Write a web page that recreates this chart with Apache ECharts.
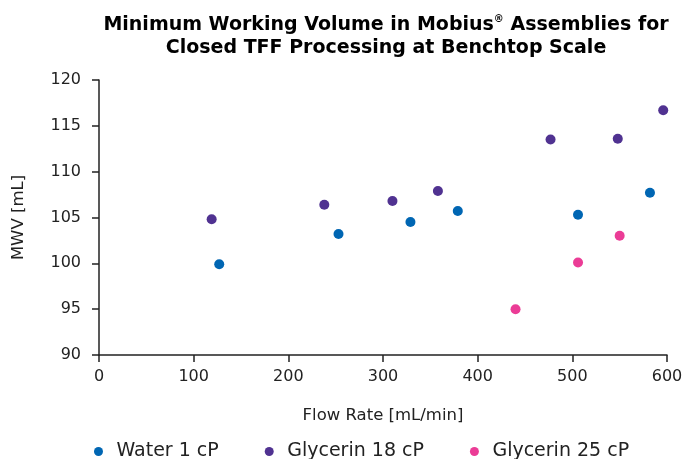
<!DOCTYPE html>
<html lang="en">
<head>
    <meta charset="UTF-8">
    <title>MWV</title>
    <style>
        html, body { margin: 0; padding: 0; background: #fff; }
        #main { width: 687px; height: 459px; }
    </style>
</head>
<body>
    <div id="main"></div>
    <script src="https://cdn.jsdelivr.net/npm/echarts@6/dist/echarts.min.js"></script>
    <script>
        // data: [flow rate mL/min, MWV mL]
        var water1 = [[127, 99.9], [253, 103.2], [329, 104.5], [379, 105.7], [506, 105.3], [582, 107.7]];
        var glycerin18 = [[119, 104.8], [238, 106.4], [310, 106.8], [358, 107.9], [477, 113.5], [548, 113.6], [596, 116.7]];
        var glycerin25 = [[440, 95.0], [506, 100.1], [550, 103.0]];
        var seriesNames = ['Water 1 cP', 'Glycerin 18 cP', 'Glycerin 25 cP'];
        var colors = ['#0066b3', '#503291', '#eb3c96'];

        var font = 'DejaVu Sans, Verdana, sans-serif';
        var myChart = echarts.init(document.getElementById('main'));

        function scatter(name, data, color) {
            return {
                name: name,
                type: 'scatter',
                data: data,
                symbolSize: 10,
                itemStyle: { color: color, opacity: 1 }
            };
        }

        var option = {
            animation: false,
            textStyle: { fontFamily: font },
            title: {
                text: '{a|Minimum Working Volume in Mobius}{s|®}{a| Assemblies for}\n{a|Closed TFF Processing at Benchtop Scale}',
                left: 381,
                textAlign: 'center',
                top: 9,
                textStyle: {
                    rich: {
                        a: { fontFamily: font, fontWeight: 'bold', fontSize: 19, color: '#000', lineHeight: 23 },
                        s: { fontFamily: font, fontWeight: 'bold', fontSize: 10, color: '#000', verticalAlign: 'top', lineHeight: 23, padding: [0, 0, 6, 0] }
                    }
                }
            },
            legend: {
                data: seriesNames,
                top: 437,
                left: 89,
                icon: 'circle',
                itemWidth: 26,
                itemHeight: 9,
                itemGap: 46,
                textStyle: { fontFamily: font, fontSize: 19, color: '#222' }
            },
            grid: { left: 99, right: 20, top: 80, bottom: 104 },
            xAxis: {
                type: 'value',
                min: 0, max: 600, interval: 100,
                name: 'Flow Rate [mL/min]',
                nameLocation: 'middle',
                nameGap: 52,
                nameTextStyle: { fontFamily: font, fontSize: 16.5, color: '#222' },
                axisLine: { show: true, lineStyle: { color: '#222', width: 1.5 } },
                axisTick: { show: true, length: 7, lineStyle: { color: '#222', width: 1.5 } },
                axisLabel: { fontFamily: font, fontSize: 16, color: '#222', margin: 14 },
                splitLine: { show: false }
            },
            yAxis: {
                type: 'value',
                min: 90, max: 120, interval: 5,
                name: 'MWV [mL]',
                nameLocation: 'middle',
                nameGap: 72,
                nameTextStyle: { fontFamily: font, fontSize: 16.5, color: '#222' },
                axisLine: { show: true, lineStyle: { color: '#222', width: 1.5 } },
                axisTick: { show: true, length: 7, lineStyle: { color: '#222', width: 1.5 } },
                axisLabel: { fontFamily: font, fontSize: 16, color: '#222', margin: 18 },
                splitLine: { show: false }
            },
            series: [
                scatter(seriesNames[0], water1, colors[0]),
                scatter(seriesNames[1], glycerin18, colors[1]),
                scatter(seriesNames[2], glycerin25, colors[2])
            ]
        };
        myChart.setOption(option);
    </script>
</body>
</html>
